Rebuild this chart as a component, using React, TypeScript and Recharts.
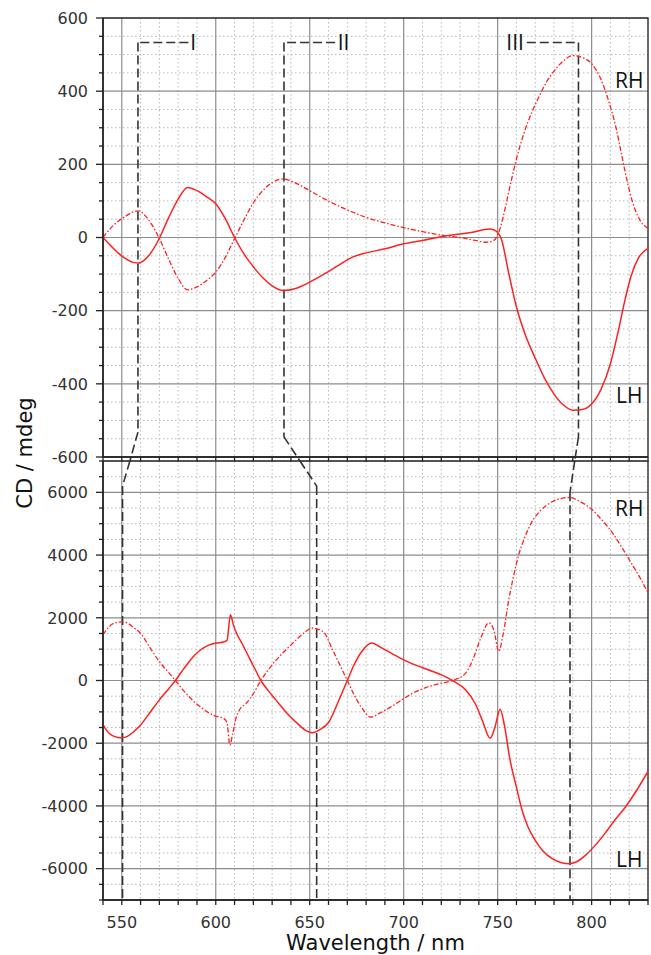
import React from 'react'
import { CartesianGrid, Line, LineChart, ReferenceArea, ReferenceDot, ReferenceLine, XAxis, YAxis } from 'recharts'

// upper panel (mdeg), LH = solid, RH = dash-dot
const topLhNm = [540, 544, 548, 552, 556, 559, 562, 566, 570, 575, 580, 585, 590, 595, 600, 605, 610, 615, 620, 625, 630, 636, 642, 650, 658, 665, 673, 680, 690, 700, 710, 722, 735, 746, 749, 752, 756, 760, 765, 770, 775, 780, 785, 790, 795, 800, 805, 810, 814, 818, 821, 825, 830]
const topLhCd = [0, -22, -42, -58, -68, -70, -62, -38, -2, 55, 105, 137, 128, 112, 92, 52, 0, -45, -80, -110, -132, -145, -140, -122, -99, -77, -53, -42, -31, -17, -8, 4, 13, 23, 18, -5, -100, -190, -270, -330, -385, -428, -458, -472, -470, -455, -415, -345, -260, -165, -105, -55, -30]
const topRhNm = [540, 544, 548, 552, 556, 559, 562, 566, 570, 575, 580, 585, 590, 595, 600, 605, 610, 615, 620, 625, 630, 636, 642, 650, 658, 665, 673, 680, 690, 700, 710, 722, 730, 738, 744, 748, 751, 754, 757, 760, 764, 768, 772, 776, 780, 785, 790, 795, 800, 805, 809, 813, 816, 820, 823, 826, 830]
const topRhCd = [0, 25, 44, 58, 70, 73, 62, 35, -3, -60, -112, -143, -135, -118, -95, -55, -3, 48, 95, 128, 150, 160, 150, 128, 105, 87, 69, 55, 40, 27, 16, 5, 0, -8, -13, -8, 20, 80, 150, 215, 285, 340, 385, 425, 455, 483, 497, 492, 475, 432, 374, 300, 225, 130, 78, 45, 25]

// lower panel (mdeg)
const botLhNm = [540, 542, 545, 548, 550, 553, 556, 560, 565, 570, 575, 578.5, 583, 588, 592, 596, 600, 604, 606, 607.8, 609.5, 611, 614, 618, 621, 624, 628, 632, 638, 644, 648, 651.5, 655, 660, 665, 670, 674, 678, 683, 688, 694, 700, 706, 713, 720, 726, 733, 738, 742, 746, 748.5, 751.3, 753.5, 756.6, 760, 763, 766, 770, 774, 779, 784, 788, 792, 797, 802, 807, 812, 818, 824, 830]
const botLhCd = [-1400, -1600, -1760, -1815, -1824, -1780, -1650, -1417, -1020, -618, -260, 0, 380, 760, 980, 1120, 1190, 1230, 1280, 2100, 1750, 1516, 1180, 700, 350, 0, -330, -618, -1050, -1400, -1600, -1670, -1580, -1340, -700, 0, 550, 950, 1196, 1050, 850, 660, 500, 342, 180, 0, -300, -725, -1300, -1845, -1500, -916, -1400, -2538, -3400, -4138, -4650, -5098, -5430, -5684, -5810, -5844, -5780, -5560, -5250, -4884, -4480, -4032, -3500, -2900]
const botRhNm = [540, 543, 546, 550, 553, 556, 560, 565, 570, 575, 578.5, 583, 588, 592, 596, 600, 604, 606, 607.5, 609, 611, 613, 616, 620, 624, 630, 636, 642, 647, 651.5, 655, 658, 662, 666, 670, 674, 678, 682.5, 687, 693, 699, 705, 712, 719, 726, 733, 737, 741, 745.3, 748, 750.6, 753, 756, 758, 761, 764, 768, 773, 779, 784, 788, 794, 800, 805, 811, 816, 821, 826, 830]
const botRhCd = [1460, 1700, 1830, 1868, 1830, 1700, 1500, 1050, 600, 250, 0, -330, -650, -850, -1020, -1140, -1200, -1350, -2060, -1700, -1150, -900, -740, -420, 0, 500, 900, 1250, 1520, 1675, 1620, 1500, 1000, 500, 0, -500, -900, -1170, -1050, -850, -618, -400, -220, -100, 0, 236, 700, 1350, 1837, 1600, 928, 1500, 2600, 3200, 3968, 4500, 5036, 5430, 5700, 5810, 5836, 5700, 5462, 5150, 4716, 4250, 3757, 3250, 2800]

const steps = (from: number, to: number, step: number) => {
  const out: number[] = []
  for (let v = from; v <= to; v += step) out.push(v)
  return out
}
const xTicks = steps(540, 830, 10)
const xMajor = [550, 600, 650, 700, 750, 800]
const xMinor = xTicks.filter((v) => v % 50 !== 0)
const topTicks = steps(-600, 600, 50)
const topMajor = [-400, -200, 0, 200, 400]
const topMinor = topTicks.filter((v) => v % 200 !== 0)
const botTicks = steps(-7000, 7000, 500)
const botMajor = [-6000, -4000, -2000, 0, 2000, 4000, 6000]
const botMinor = botTicks.filter((v) => v % 2000 !== 0)

// dashed guides (nm, mdeg) for bands I, II, III
const guideTop = [
  { label: 'I', labelNm: 588, path: [[585.4, 533], [558.6, 533], [558.6, -532], [554.3, -611]] },
  { label: 'II', labelNm: 668, path: [[663.5, 533], [636.3, 533], [636.3, -545], [644.8, -611]] },
  { label: 'III', labelNm: 759.3, path: [[765.5, 533], [793, 533], [793, -545], [791, -611]] },
]
const guideBot = [
  [[554.3, 7000], [550.4, 6200], [550.4, -7000]],
  [[644.8, 7000], [653.7, 6200], [653.7, -7000]],
  [[791, 7000], [788.5, 6000], [788.5, -7000]],
]

const zip = (nm: number[], cd: number[]) => nm.map((x, i) => ({ nm: x, cd: cd[i] }))

const RED = '#ff2020'
const AXIS = '#222'
const TICK_FONT = { fontFamily: '"DejaVu Sans", sans-serif', fontSize: 16, fill: '#333' }
const NOTE_FONT = { fontFamily: '"Open Sans", sans-serif', fontSize: 21, fill: '#111' }
const GUIDE = { stroke: '#333', strokeWidth: 1.6, strokeDasharray: '9 4' }

function LeftTick({ x, y, payload, major }: any) {
  const v = payload.value
  const isMajor = v % major === 0
  return (
    <g>
      <line x1={x} x2={x - (isMajor ? 7 : 4)} y1={y} y2={y} stroke={AXIS} strokeWidth={1.3} />
      {isMajor && (
        <text x={x - 15} y={y} dy={5.8} textAnchor="end" {...TICK_FONT}>
          {v}
        </text>
      )}
    </g>
  )
}

function BottomTick({ x, y, payload, labels }: any) {
  const v = payload.value
  return (
    <g>
      <line x1={x} x2={x} y1={y} y2={y + 5} stroke={AXIS} strokeWidth={1.3} />
      {labels && v % 50 === 0 && (
        <text x={x} y={y + 28} textAnchor="middle" {...TICK_FONT}>
          {v}
        </text>
      )}
    </g>
  )
}

function segments(path: number[][], key: string) {
  return path.slice(1).map((p, i) => (
    <ReferenceLine
      key={`${key}-${i}`}
      segment={[
        { x: path[i][0], y: path[i][1] },
        { x: p[0], y: p[1] },
      ]}
      ifOverflow="visible"
      {...GUIDE}
    />
  ))
}

function Note({ x, y, text }: { x: number; y: number; text: string }) {
  return <ReferenceDot x={x} y={y} r={0} fill="none" stroke="none" label={{ value: text, position: 'center', ...NOTE_FONT }} />
}

function Grid({ yMinor, yMajor }: { yMinor: number[]; yMajor: number[] }) {
  return (
    <>
      <CartesianGrid stroke="#b8b8b8" strokeDasharray="1.5 2.5" verticalValues={xMinor} horizontalValues={yMinor} />
      <CartesianGrid stroke="#8c8c8c" strokeWidth={1.2} verticalValues={xMajor} horizontalValues={yMajor} />
    </>
  )
}

export default function App() {
  return (
    <div style={{ position: 'absolute', left: 0, top: 0, width: 651, height: 955, background: '#fff' }}>
      <div style={{ position: 'absolute', left: 0, top: 0 }}>
        <LineChart width={651} height={470} margin={{ top: 18, right: 3, bottom: 0, left: 0 }}>
          {Grid({ yMinor: topMinor, yMajor: topMajor })}
          <ReferenceArea x1={540} x2={830} y1={-600} y2={600} fill="none" stroke={AXIS} strokeWidth={1.3} ifOverflow="visible" />
          <XAxis
            dataKey="nm"
            type="number"
            domain={[540, 830]}
            ticks={xTicks}
            interval={0}
            allowDataOverflow
            height={13}
            tickSize={0}
            tickMargin={0}
            tickLine={false}
            axisLine={{ stroke: AXIS, strokeWidth: 1.5 }}
            tick={(p: any) => <BottomTick {...p} labels={false} />}
          />
          <YAxis
            type="number"
            domain={[-600, 600]}
            ticks={topTicks}
            interval={0}
            allowDataOverflow
            width={103}
            tickSize={0}
            tickMargin={0}
            tickLine={false}
            axisLine={{ stroke: AXIS, strokeWidth: 1.5 }}
            tick={(p: any) => <LeftTick {...p} major={200} />}
          />
          {guideTop.map((g, i) => segments(g.path, `t${i}`))}
          {guideTop.map((g) => (
            <Note key={g.label} x={g.labelNm} y={533} text={g.label} />
          ))}
          <Line data={zip(topRhNm, topRhCd)} dataKey="cd" type="monotone" stroke={RED} strokeWidth={1.3} strokeDasharray="5 2 1.5 2" dot={false} isAnimationActive={false} />
          <Line data={zip(topLhNm, topLhCd)} dataKey="cd" type="monotone" stroke={RED} strokeWidth={1.5} dot={false} isAnimationActive={false} />
          <Note x={820} y={430} text="RH" />
          <Note x={820} y={-432} text="LH" />
        </LineChart>
      </div>
      <div style={{ position: 'absolute', left: 0, top: 440 }}>
        <LineChart width={651} height={515} margin={{ top: 21, right: 3, bottom: 0, left: 0 }}>
          {Grid({ yMinor: botMinor, yMajor: botMajor })}
          <ReferenceArea x1={540} x2={830} y1={-7000} y2={7000} fill="none" stroke={AXIS} strokeWidth={1.3} ifOverflow="visible" />
          <XAxis
            dataKey="nm"
            type="number"
            domain={[540, 830]}
            ticks={xTicks}
            interval={0}
            allowDataOverflow
            height={55}
            tickSize={0}
            tickMargin={0}
            tickLine={false}
            axisLine={{ stroke: AXIS, strokeWidth: 1.5 }}
            tick={(p: any) => <BottomTick {...p} labels />}
            label={{ value: 'Wavelength / nm', position: 'insideBottom', offset: 5, fill: '#111', fontSize: 21, fontFamily: '"DejaVu Sans", sans-serif' }}
          />
          <YAxis
            type="number"
            domain={[-7000, 7000]}
            ticks={botTicks}
            interval={0}
            allowDataOverflow
            width={103}
            tickSize={0}
            tickMargin={0}
            tickLine={false}
            axisLine={{ stroke: AXIS, strokeWidth: 1.5 }}
            tick={(p: any) => <LeftTick {...p} major={2000} />}
          />
          {guideBot.map((path, i) => segments(path, `b${i}`))}
          <Line data={zip(botRhNm, botRhCd)} dataKey="cd" type="monotone" stroke={RED} strokeWidth={1.3} strokeDasharray="5 2 1.5 2" dot={false} isAnimationActive={false} />
          <Line data={zip(botLhNm, botLhCd)} dataKey="cd" type="monotone" stroke={RED} strokeWidth={1.5} dot={false} isAnimationActive={false} />
          <Note x={820} y={5490} text="RH" />
          <Note x={820} y={-5724} text="LH" />
        </LineChart>
      </div>
      <svg width={651} height={955} style={{ position: 'absolute', left: 0, top: 0, pointerEvents: 'none' }}>
        <text transform="translate(25,453) rotate(-90)" textAnchor="middle" dominantBaseline="central" fill="#111" fontSize={21} fontFamily='"DejaVu Sans", sans-serif'>
          CD / mdeg
        </text>
      </svg>
    </div>
  )
}
